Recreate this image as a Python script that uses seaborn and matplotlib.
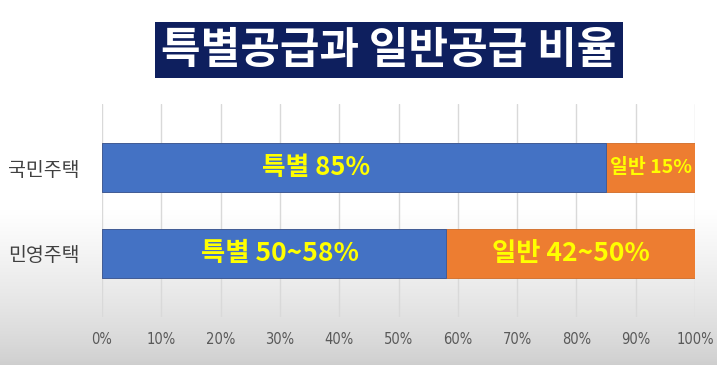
import numpy as np
import pandas as pd
import matplotlib
matplotlib.use("Agg")
import matplotlib.pyplot as plt
import seaborn as sns

categories = ["국민주택", "민영주택"]
special = [85, 58]
general = [15, 42]
special_labels = ["특별 85%", "특별 50~58%"]
general_labels = ["일반 15%", "일반 42~50%"]
x_ticks = [0, 10, 20, 30, 40, 50, 60, 70, 80, 90, 100]
x_tick_labels = [f"{v}%" for v in x_ticks]
title = "특별공급과 일반공급 비율"

sns.set_theme(style="white")
plt.rcParams["font.family"] = ["Noto Sans CJK KR", "DejaVu Sans"]

df = pd.DataFrame({
    "category": categories,
    "special": special,
    "total": [s + g for s, g in zip(special, general)],
})

fig = plt.figure(figsize=(7.17, 3.65), dpi=100)

# background gradient: white at top, light grey at bottom
bg = fig.add_axes([0, 0, 1, 1], zorder=-10)
t = np.linspace(0.0, 1.0, 256).reshape(-1, 1)  # 0 bottom -> 1 top
shade = 0.81 + 0.19 * np.clip(t / 0.42, 0, 1) ** 0.8
img = np.dstack([shade, shade, shade])
bg.imshow(img, aspect="auto", extent=[0, 1, 0, 1], origin="lower")
bg.axis("off")

ax = fig.add_axes([0.1423, 0.1315, 0.8270, 0.5836])
ax.patch.set_alpha(0)

sns.barplot(data=df, y="category", x="total", color="#ED7D31", orient="h",
            width=0.58, ax=ax, saturation=1, edgecolor="#D06A25", linewidth=0.6, zorder=3)
sns.barplot(data=df, y="category", x="special", color="#4472C4", orient="h",
            width=0.58, ax=ax, saturation=1, edgecolor="#35599B", linewidth=0.6, zorder=3)

ax.set_xlim(0, 100)
ax.set_ylim(1.74, -0.74)
ax.set_xticks(x_ticks)
ax.set_xticklabels(x_tick_labels)
ax.set_xlabel("")
ax.set_ylabel("")
ax.xaxis.grid(True, color="#d9d9d9", linewidth=1.0, zorder=0)
ax.yaxis.grid(False)
for s in ax.spines.values():
    s.set_visible(False)
ax.tick_params(axis="x", length=0, pad=11, labelsize=10.5, labelcolor="#595959")
ax.tick_params(axis="y", length=0, pad=16, labelsize=14, labelcolor="#404040")
for lab in ax.get_xticklabels():
    lab.set_fontfamily(["DejaVu Sans"])
    lab.set_fontstretch("condensed")

# labels
sp_x = [36.1, special[1] / 2 + 1.0]
sp_size = [18.5, 19]
gn_size = [14, 19]
for i in range(len(categories)):
    ax.text(sp_x[i], i, special_labels[i], ha="center", va="center",
            color="#FFFF00", fontsize=sp_size[i], fontweight="bold", zorder=5)
    gx = special[i] + general[i] / 2
    ax.text(gx, i, general_labels[i], ha="center", va="center",
            color="#FFFF00", fontsize=gn_size[i], fontweight="bold", zorder=5)

fig.text(0.5425, 0.863, title, ha="center", va="center", color="white",
         fontsize=31, fontweight="heavy",
         bbox=dict(boxstyle="square,pad=0.14", facecolor="#0E1F5E", edgecolor="none"))

fig.savefig("out.png", dpi=100)
